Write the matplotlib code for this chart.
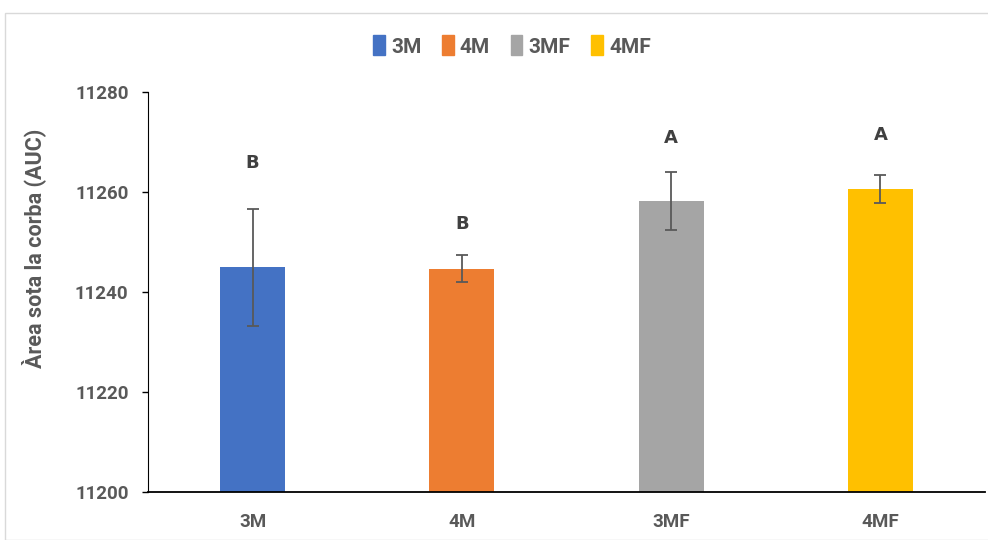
import matplotlib
matplotlib.use("Agg")
import matplotlib.pyplot as plt
from matplotlib.patches import Rectangle
from matplotlib import font_manager

categories = ["3M", "4M", "3MF", "4MF"]
values = [11245.0, 11244.7, 11258.3, 11260.6]
errors = [11.7, 2.8, 5.8, 2.8]
letters = ["B", "B", "A", "A"]
letter_y = [11265.8, 11253.6, 11270.8, 11271.4]
colors = ["#4472C4", "#ED7D31", "#A5A5A5", "#FFC000"]
yticks = [11200, 11220, 11240, 11260, 11280]

names = {f.name for f in font_manager.fontManager.ttflist}
fam = "Liberation Sans Narrow" if "Liberation Sans Narrow" in names else "Roboto"
plt.rcParams['font.family'] = [fam, 'DejaVu Sans']
txt = "#595959"

W, H = 988, 540
fig = plt.figure(figsize=(W/100, H/100), dpi=100)
fig.patches.append(Rectangle((5/W, 0), 1.2, 1 - 13/H, transform=fig.transFigure,
                             fill=False, edgecolor="#D9D9D9", linewidth=1.0))

ax = fig.add_axes([148/W, 1 - 492/H, (985-148)/W, 400/H])
x = list(range(len(categories)))
ax.bar(x, values, width=0.31, color=colors,
       yerr=errors, error_kw=dict(ecolor="#595959", elinewidth=1.3, capsize=4.5, capthick=1.3),
       zorder=2)
ax.set_ylim(11200, 11280)
ax.set_xlim(-0.5, 3.5)
ax.set_yticks(yticks)
ax.set_yticklabels([str(t) for t in yticks], fontsize=13.5, fontweight="bold", color=txt)
ax.set_xticks(x)
ax.set_xticklabels(categories, fontsize=13.5, fontweight="bold", color=txt)
ax.tick_params(axis="x", length=0, pad=15)
ax.tick_params(axis="y", length=4, width=1, color="black", pad=10)
for s in ["top", "right"]:
    ax.spines[s].set_visible(False)
ax.spines["left"].set_color("black")
ax.spines["bottom"].set_color("black")
ax.spines["bottom"].set_linewidth(1.3)
ax.set_ylabel("Àrea sota la corba (AUC)", fontsize=15.5, fontweight="bold", color=txt)
ax.yaxis.set_label_coords(-0.122, 0.61)

for xi, l, ly in zip(x, letters, letter_y):
    ax.text(xi, ly, l, ha="center", va="center", fontsize=13, fontweight="bold",
            color="#404040", family=["DejaVu Sans"])

handles = [Rectangle((0, 0), 1, 1, color=c) for c in colors]
leg = fig.legend(handles, categories, loc="center", bbox_to_anchor=(512/W, 1 - 46/H), ncol=4,
                 frameon=False, fontsize=15, handlelength=0.55, handleheight=1.1,
                 handletextpad=0.3, columnspacing=1.0)
for t in leg.get_texts():
    t.set_fontweight("bold")
    t.set_color(txt)

fig.savefig("out.png", dpi=100)
